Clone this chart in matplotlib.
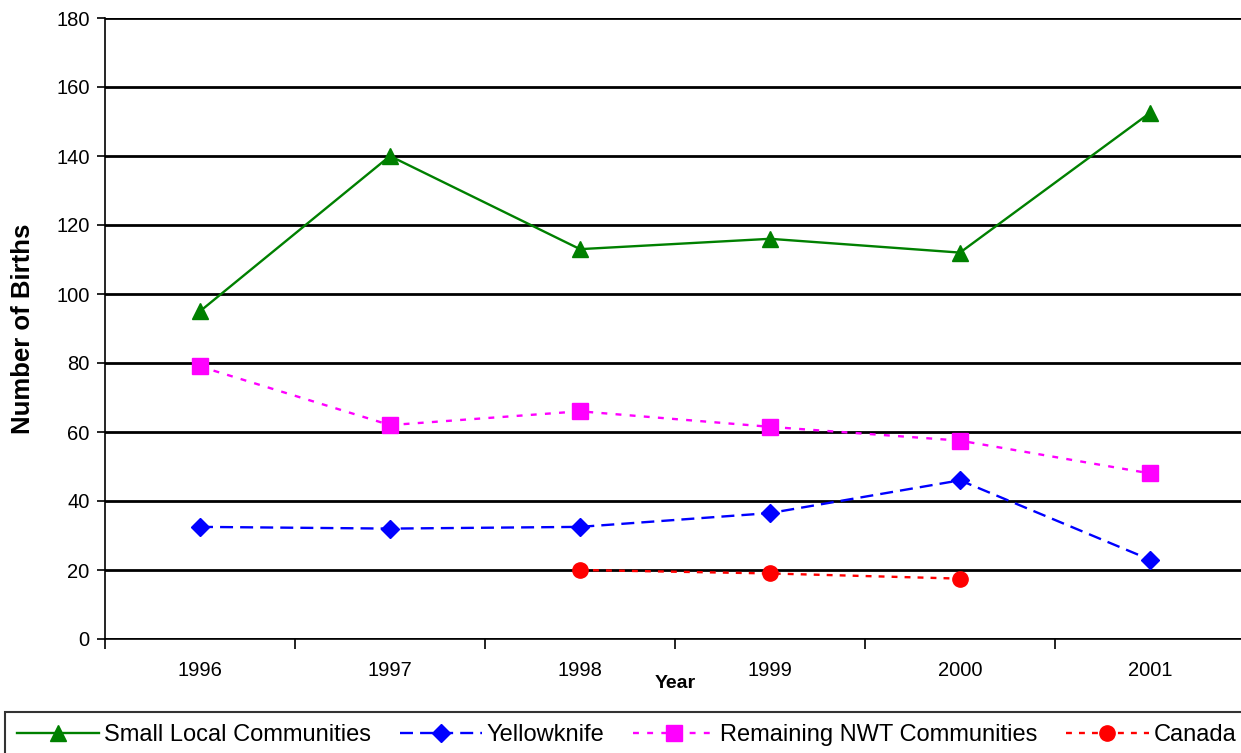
import matplotlib
matplotlib.use("Agg")
from matplotlib import pyplot as plt

years = ["1996", "1997", "1998", "1999", "2000", "2001"]
small_local = [95, 140, 113, 116, 112, 152.5]
yellowknife = [32.5, 32, 32.5, 36.5, 46, 23]
remaining_nwt = [79, 62, 66, 61.5, 57.5, 48]
canada_years = ["1998", "1999", "2000"]
canada = [20, 19, 17.5]

plt.rcParams['font.family'] = ['Liberation Sans', 'DejaVu Sans']

fig = plt.figure(figsize=(12.41, 7.53), dpi=100)
ax = fig.add_axes([105 / 1241, 1 - 639 / 753, 1140 / 1241, 621 / 753])

x = list(range(len(years)))
cx = [years.index(y) for y in canada_years]

ax.plot(x, small_local, color='#008000', lw=1.7, marker='^', ms=12,
        label='Small Local Communities', zorder=3)
ax.plot(x, yellowknife, color='#0000FF', lw=1.7, ls=(0, (5.5, 3)), marker='D', ms=9.5,
        label='Yellowknife', zorder=3)
ax.plot(x, remaining_nwt, color='#FF00FF', lw=1.7, ls=(0, (2.5, 3.5)), marker='s', ms=11,
        label='Remaining NWT Communities', zorder=3)
ax.plot(cx, canada, color='#FF0000', lw=1.7, ls=(0, (2.5, 3)), marker='o', ms=11,
        label='Canada', zorder=3)

ax.set_xlim(-0.5, len(years) - 0.5)
ax.set_ylim(0, 180)
ax.set_yticks(range(0, 181, 20))
ax.yaxis.grid(True, color='black', lw=2)
ax.set_axisbelow(True)

ax.set_xticks(x)
ax.set_xticklabels(years, fontsize=14.5)
ax.set_xticks([i - 0.5 for i in range(len(years) + 1)], minor=True)
ax.tick_params(axis='x', which='major', length=0, pad=16)
ax.tick_params(axis='x', which='minor', length=7, width=1.2, direction='out')
ax.tick_params(axis='y', labelsize=14.5, length=6, width=1.2, direction='out', pad=5)

for side in ['top', 'right']:
    ax.spines[side].set_visible(False)
ax.spines['left'].set_linewidth(1.2)
ax.spines['bottom'].set_linewidth(1.2)

ax.set_ylabel("Number of Births", fontsize=18.5, fontweight='bold')
ax.yaxis.set_label_coords(-0.061, 0.5)
ax.set_xlabel("Year", fontsize=14, fontweight='bold', labelpad=-4)

leg = fig.legend(loc='upper left', bbox_to_anchor=(5 / 1241, 1 - 712 / 753),
                 ncol=4, fontsize=17, frameon=True, fancybox=False,
                 handlelength=3.5, borderaxespad=0, handletextpad=0.2,
                 columnspacing=1.2, borderpad=0.5)
leg.get_frame().set_edgecolor('black')
leg.get_frame().set_linewidth(1.5)

fig.savefig("out.png", dpi=100)
